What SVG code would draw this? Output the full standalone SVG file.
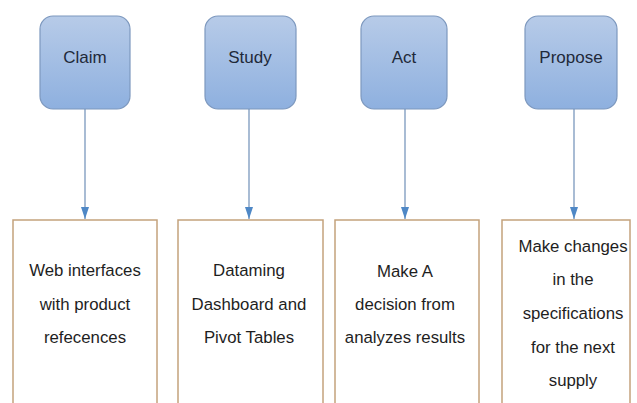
<svg xmlns="http://www.w3.org/2000/svg" width="637" height="403" viewBox="0 0 637 403">
<defs>
<linearGradient id="blue" x1="0" y1="0" x2="0" y2="1">
<stop offset="0" stop-color="#b7cbe8"/>
<stop offset="1" stop-color="#8eb0df"/>
</linearGradient>
<marker id="arr" markerWidth="12" markerHeight="8" refX="12" refY="4" orient="auto" markerUnits="userSpaceOnUse" viewBox="0 0 12 8">
<path d="M0,0 L12,4 L0,8 Z" fill="#4f88c6"/>
</marker>
<style>
.top{fill:url(#blue);stroke:#7d98be;stroke-width:1.2}
.bot{fill:#ffffff;stroke:#c4a27c;stroke-width:1.5}
.lbl{font-family:"Liberation Sans",Arial,sans-serif;font-size:17px;fill:#1f2a3a;text-anchor:middle}
.txt{font-family:"Liberation Sans",Arial,sans-serif;font-size:16.8px;fill:#1e1e1e;text-anchor:middle}
.con{stroke:#6f8fb8;stroke-width:1.2;fill:none}
</style>
</defs>
<rect width="637" height="403" fill="#ffffff"/>
<g id="claim"><rect class="top" x="40" y="16" width="90" height="93" rx="13"/><text class="lbl" x="85" y="63">Claim</text></g>
<g id="study"><rect class="top" x="205" y="16" width="91" height="93" rx="13"/><text class="lbl" x="250" y="63">Study</text></g>
<g id="act"><rect class="top" x="361" y="16" width="86" height="93" rx="13"/><text class="lbl" x="404" y="63">Act</text></g>
<g id="propose"><rect class="top" x="525" y="16" width="92" height="93" rx="13"/><text class="lbl" x="571" y="63">Propose</text></g>
<g id="claim-detail"><rect class="bot" x="13" y="220" width="144" height="200"/>
<text class="txt" x="85" y="276">Web interfaces</text><text class="txt" x="85" y="310">with product</text><text class="txt" x="85" y="343">refecences</text></g>
<g id="study-detail"><rect class="bot" x="178" y="220" width="145" height="200"/>
<text class="txt" x="249" y="276">Dataming</text><text class="txt" x="249" y="310">Dashboard and</text><text class="txt" x="249" y="343">Pivot Tables</text></g>
<g id="act-detail"><rect class="bot" x="335" y="220" width="144" height="200"/>
<text class="txt" x="405" y="277">Make A</text><text class="txt" x="405" y="310">decision from</text><text class="txt" x="405" y="343">analyzes results</text></g>
<g id="propose-detail"><rect class="bot" x="502" y="220" width="128" height="200"/>
<text class="txt" x="573" y="252">Make changes</text><text class="txt" x="573" y="285">in the</text><text class="txt" x="573" y="319">specifications</text><text class="txt" x="573" y="353">for the next</text><text class="txt" x="573" y="386">supply</text></g>
<g id="connectors">
<line class="con" x1="85" y1="109" x2="85" y2="219" marker-end="url(#arr)"/>
<line class="con" x1="249" y1="109" x2="249" y2="219" marker-end="url(#arr)"/>
<line class="con" x1="405" y1="109" x2="405" y2="219" marker-end="url(#arr)"/>
<line class="con" x1="574" y1="109" x2="574" y2="219" marker-end="url(#arr)"/>
</g>
</svg>
